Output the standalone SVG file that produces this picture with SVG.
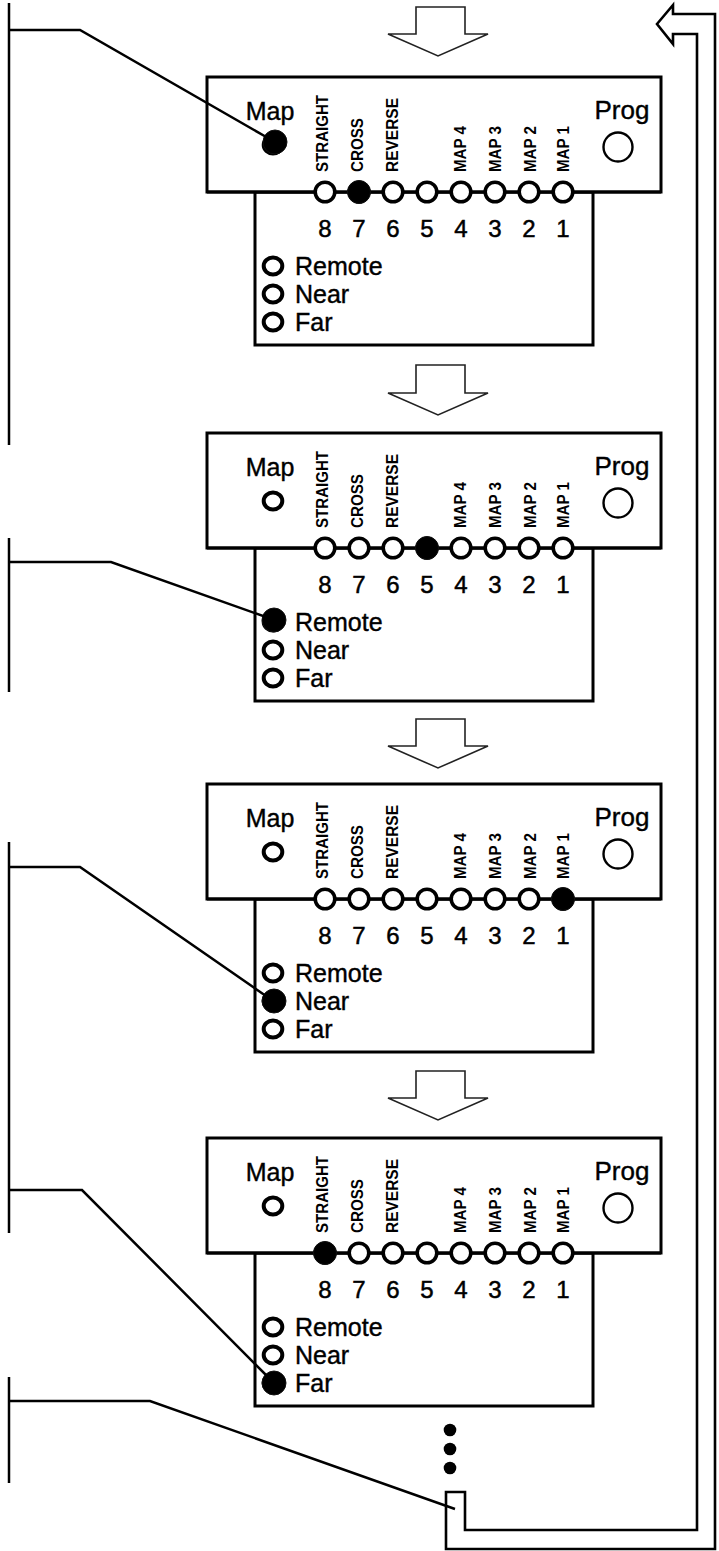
<svg xmlns="http://www.w3.org/2000/svg" width="719" height="1551" viewBox="0 0 719 1551">
<defs>
<style>
.frame{fill:#fff;stroke:#000;stroke-width:3}
.bus{fill:none;stroke:#000;stroke-width:3}
.led{fill:#fff;stroke:#000;stroke-width:3.6}
.on{fill:#000;stroke:#111;stroke-width:1}
.ring{fill:#fff;stroke:#000;stroke-width:4}
.prog{fill:#fff;stroke:#000;stroke-width:2.4}
.big{font-family:"Liberation Sans",Arial,Helvetica,sans-serif;font-size:25px;fill:#000;stroke:#000;stroke-width:0.4}
.num{font-family:"Liberation Sans",Arial,Helvetica,sans-serif;font-size:24px;fill:#000;stroke:#000;stroke-width:0.5;text-anchor:middle}
.vl{font-family:"Liberation Sans",Arial,Helvetica,sans-serif;font-size:17px;font-weight:bold;fill:#000}
.arrow{fill:#fff;stroke:#222;stroke-width:1.6;stroke-linejoin:miter}
.wire{fill:none;stroke:#000;stroke-width:2.5;stroke-linejoin:miter}
.ret{fill:#fff;stroke:#000;stroke-width:2.6;stroke-linejoin:miter}
</style>
<g id="panelTemplate">
<rect class="frame" x="255" y="115" width="338" height="153"/>
<rect class="frame" x="207" y="0" width="454" height="115"/>
<line class="bus" x1="207" y1="115" x2="661" y2="115"/>
<text class="big" x="270" y="43" text-anchor="middle">Map</text>
<text class="big" x="622" y="42" text-anchor="middle" style="font-size:26px">Prog</text>
<circle class="prog" cx="618" cy="70" r="14.5"/>
<text class="vl" transform="translate(328,95) rotate(-90)" textLength="77" lengthAdjust="spacingAndGlyphs">STRAIGHT</text>
<text class="vl" transform="translate(363,95) rotate(-90)" textLength="54" lengthAdjust="spacingAndGlyphs">CROSS</text>
<text class="vl" transform="translate(398,95) rotate(-90)" textLength="74" lengthAdjust="spacingAndGlyphs">REVERSE</text>
<text class="vl" transform="translate(466,95) rotate(-90)" textLength="46" lengthAdjust="spacingAndGlyphs">MAP 4</text>
<text class="vl" transform="translate(501,95) rotate(-90)" textLength="46" lengthAdjust="spacingAndGlyphs">MAP 3</text>
<text class="vl" transform="translate(536,95) rotate(-90)" textLength="46" lengthAdjust="spacingAndGlyphs">MAP 2</text>
<text class="vl" transform="translate(569,95) rotate(-90)" textLength="46" lengthAdjust="spacingAndGlyphs">MAP 1</text>
<circle class="led" cx="325" cy="115" r="9.8"/>
<circle class="led" cx="359" cy="115" r="9.8"/>
<circle class="led" cx="393" cy="115" r="9.8"/>
<circle class="led" cx="427" cy="115" r="9.8"/>
<circle class="led" cx="461" cy="115" r="9.8"/>
<circle class="led" cx="495" cy="115" r="9.8"/>
<circle class="led" cx="529" cy="115" r="9.8"/>
<circle class="led" cx="563" cy="115" r="9.8"/>
<text class="num" x="325" y="160">8</text>
<text class="num" x="359" y="160">7</text>
<text class="num" x="393" y="160">6</text>
<text class="num" x="427" y="160">5</text>
<text class="num" x="461" y="160">4</text>
<text class="num" x="495" y="160">3</text>
<text class="num" x="529" y="160">2</text>
<text class="num" x="563" y="160">1</text>
<ellipse class="ring" cx="273" cy="68" rx="9.3" ry="8.5"/>
<ellipse class="ring" cx="273" cy="189" rx="9.3" ry="8.5"/>
<ellipse class="ring" cx="273" cy="217" rx="9.3" ry="8.5"/>
<ellipse class="ring" cx="273" cy="245" rx="9.3" ry="8.5"/>
<text class="big" x="295" y="198">Remote</text>
<text class="big" x="295" y="226">Near</text>
<text class="big" x="295" y="254">Far</text>
</g>
</defs>

<g id="flow-arrows">
<polygon class="arrow" points="416,7 465,7 465,34 488,34 438,56 388,34 416,34"/>
<polygon class="arrow" points="416,365 465,365 465,393 488,393 438,415 388,393 416,393"/>
<polygon class="arrow" points="416,719 465,719 465,746 488,746 438,768 388,746 416,746"/>
<polygon class="arrow" points="416,1071 465,1071 465,1098 488,1098 438,1120 388,1098 416,1098"/>
</g>

<g id="panel1" transform="translate(0,77)">
<use href="#panelTemplate"/>
<circle class="on" cx="275" cy="65" r="12"/>
<circle class="on" cx="359" cy="115" r="11.5"/>
</g>

<g id="panel2" transform="translate(0,433)">
<use href="#panelTemplate"/>
<circle class="on" cx="427" cy="115" r="11.5"/>
<circle class="on" cx="274" cy="187" r="12"/>
</g>

<g id="panel3" transform="translate(0,784)">
<use href="#panelTemplate"/>
<circle class="on" cx="563" cy="115" r="11.5"/>
<circle class="on" cx="274" cy="217" r="12"/>
</g>

<g id="panel4" transform="translate(0,1138)">
<use href="#panelTemplate"/>
<circle class="on" cx="325" cy="115" r="11.5"/>
<circle class="on" cx="274" cy="245" r="12"/>
</g>

<g id="ellipsis">
<circle cx="450" cy="1430" r="6.3" fill="#000"/>
<circle cx="450" cy="1449" r="6.3" fill="#000"/>
<circle cx="450" cy="1468" r="6.3" fill="#000"/>
</g>

<g id="return-arrow">
<polygon class="ret" points="657,24 673,5 673,14 715,14 715,1549 446,1549 446,1492 465,1492 465,1530 697,1530 697,34 673,34 673,44"/>
</g>

<g id="connectors">
<polyline class="wire" points="9,3 9,445"/>
<polyline class="wire" points="9,30 80,30 268,138"/>
<polyline class="wire" points="9,538 9,692"/>
<polyline class="wire" points="9,562 111,562 266,617"/>
<polyline class="wire" points="9,842 9,1233"/>
<polyline class="wire" points="9,867 80,867 266,996"/>
<polyline class="wire" points="9,1190 82,1190 266,1375"/>
<polyline class="wire" points="9,1377 9,1483"/>
<polyline class="wire" points="9,1401 150,1401 455,1509"/>
</g>
</svg>
